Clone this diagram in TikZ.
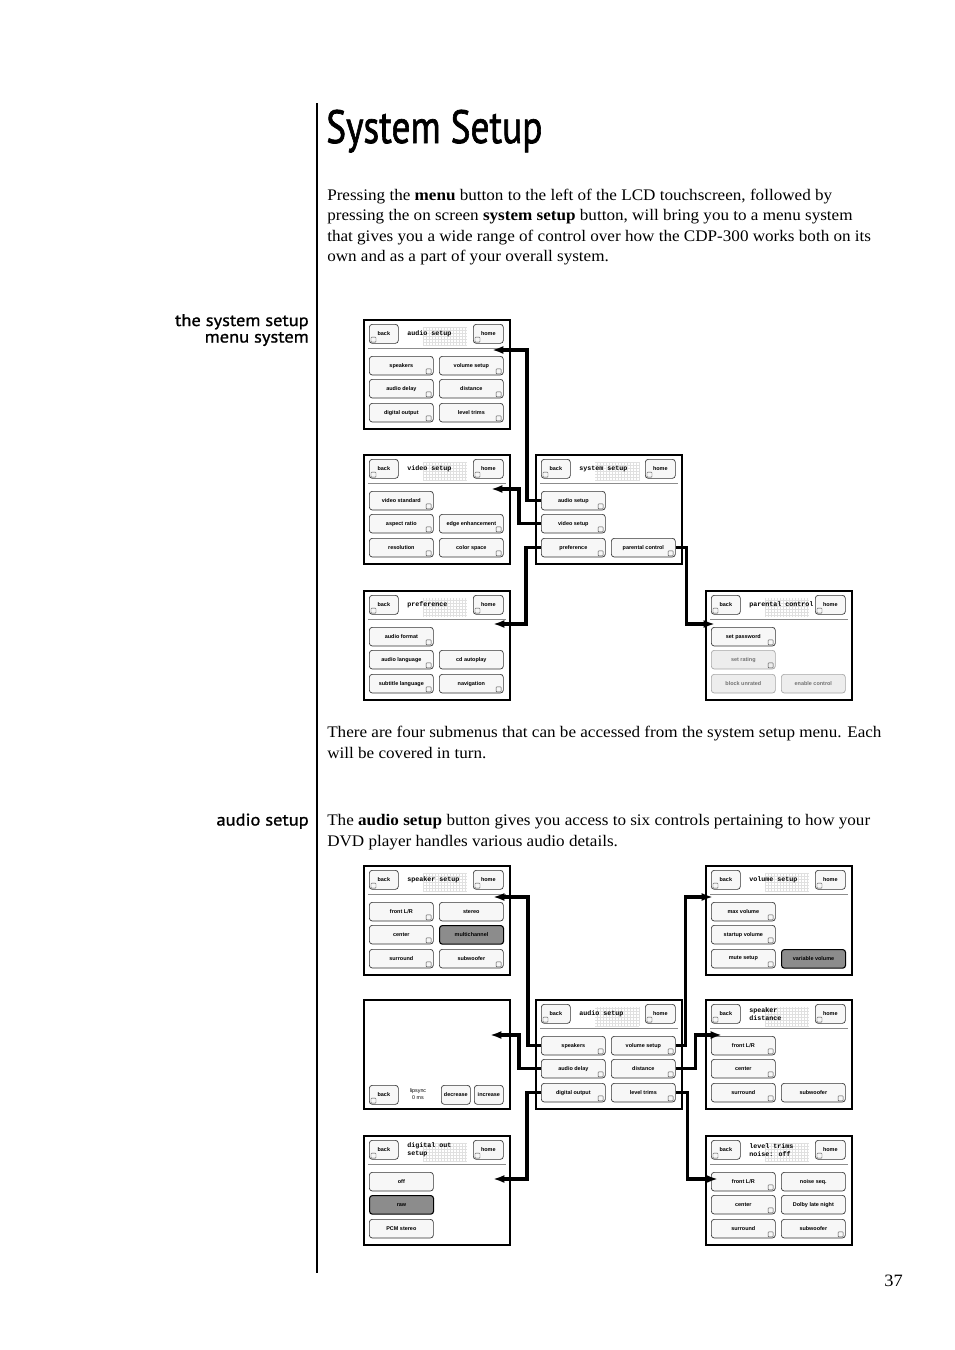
\documentclass[tikz,border=0pt]{standalone}
\usepackage{fontspec}
\setmainfont{Liberation Serif}[FakeStretch=1.06]
\setsansfont{PT Sans}
\newfontfamily\headfont{PT Sans}[FakeBold=1.6]
\newfontfamily\sidefont{PT Sans}[FakeStretch=1.1, FakeBold=1.1]
\newfontfamily\lcdsans{Liberation Sans}
\newfontfamily\lcdmono{Liberation Mono}
\usepackage{graphicx}
\usepackage{tikz}
\usetikzlibrary{calc, positioning, arrows.meta}
\definecolor{lcdline}{RGB}{140,140,140}

% one touchscreen page: frame, header keys, title and rule
\newcommand{\lcdscreen}[4]{%
  \node[screen] (#1) at (#2,#3) {};
  \draw[dotgrid] ($(#1.north west)+(60,27)$) grid ($(#1.north west)+(104,8)$);
  \node[hdrkey] (#1-back) at ($(#1.north west)+(6,5)$) {back};
  \draw[icon] ($(#1-back.south west)+(2,-1.5)$) rectangle ++(5,-5);
  \node[hdrkey, minimum width=22.5pt] (#1-home) at ($(#1.north west)+(110,5)$) {home};
  \draw[icon] ($(#1-home.south west)+(2,-1.5)$) rectangle ++(5,-5);
  \node[lcdtitle] (#1-title) at ($(#1.north west)+(44,15)$) {#4};
  \draw[hline] ($(#1.north west)+(5,29)$) -- ($(#1.north east)+(-5,29)$);
}
% key with the small arrow box in its corner
\newcommand{\lcdbtn}[6][]{%
  \node[btn, #1] (#2) at ($(#3.north west)+(#4,#5)$) {#6};
  \draw[icon] ($(#2.south east)+(-7.5,-1.5)$) rectangle ++(5,-5);
}
% plain key
\newcommand{\lcdkey}[6][]{%
  \node[btn, #1] (#2) at ($(#3.north west)+(#4,#5)$) {#6};
}

\begin{document}
\begin{tikzpicture}[
    x=0.75pt, y=-0.75pt,
    >={Latex[length=8.5pt,width=6pt]},
    screen/.style={draw, line width=1.5pt, anchor=north west,
                   minimum width=109.5pt, minimum height=81.75pt, inner sep=0pt},
    btn/.style={draw=black!80, line width=0.5pt, rounded corners=2.2pt,
                fill=black!3, anchor=north west, minimum width=48pt,
                minimum height=14pt, inner sep=0pt,
                font=\lcdsans\bfseries\fontsize{4.1}{4.5}\selectfont},
    hdrkey/.style={btn, minimum width=21.75pt, minimum height=14.25pt},
    dark/.style={fill=black!45, draw=black, line width=0.8pt},
    dim/.style={draw=black!35, fill=black!7, text=black!55},
    icon/.style={draw=black!70, line width=0.3pt, rounded corners=0.5pt},
    dotgrid/.style={draw=black!12, line width=0.15pt, step=2.25pt},
    hline/.style={draw=lcdline, line width=0.5pt},
    lcdtitle/.style={anchor=west, inner sep=0pt, align=left,
                     font=\lcdmono\bfseries\fontsize{5}{6}\selectfont},
    link/.style={->, line width=2.4pt},
    body/.style={anchor=base west, inner sep=0pt,
                 font=\fontsize{12.1}{14}\selectfont},
    sidelabel/.style={anchor=base east, inner sep=0pt,
                      font=\sidefont\fontsize{12.6}{14}\selectfont}
]
\fill[white] (0,0) rectangle (954,1350);
\useasboundingbox (0,0) rectangle (954,1350);

% --- page text ---
\draw[line width=1.1pt] (317,103) -- (317,1273);
\node[anchor=base west, inner sep=0pt, font=\headfont\fontsize{35}{40}\selectfont]
    (heading) at (326,143) {\scalebox{0.8}[1]{System Setup}};
\node[body] (intro-1) at (327,200) {Pressing the \textbf{menu} button to the left of the LCD touchscreen, followed by};
\node[body] (intro-2) at (327,220.5) {pressing the on screen \textbf{system setup} button, will bring you to a menu system};
\node[body] (intro-3) at (327,241) {that gives you a wide range of control over how the CDP-300 works both on its};
\node[body] (intro-4) at (327,261.5) {own and as a part of your overall system.};
\node[sidelabel] (side-1a) at (309,326) {the system setup};
\node[sidelabel] (side-1b) at (309,342.5) {menu system};
\node[body] (sub-1) at (327,737) {There are four submenus that can be accessed from the system setup menu. Each};
\node[body] (sub-2) at (327,758) {will be covered in turn.};
\node[sidelabel] (side-2) at (309,825.5) {audio setup};
\node[body] (aud-1) at (327,825.5) {The \textbf{audio setup} button gives you access to six controls pertaining to how your};
\node[body] (aud-2) at (327,846) {DVD player handles various audio details.};
\node[anchor=base east, inner sep=0pt, font=\fontsize{13}{15}\selectfont]
    (pageno) at (903,1286) {37};

% ============================================================
%  SYSTEM SETUP and its four submenus
% ============================================================
\lcdscreen{aud}{363}{319}{audio setup}
\lcdbtn{aud-spk}{aud}{6}{37}{speakers}
\lcdbtn{aud-vol}{aud}{76}{37}{volume setup}
\lcdbtn{aud-del}{aud}{6}{60}{audio delay}
\lcdbtn{aud-dist}{aud}{76}{60}{distance}
\lcdbtn{aud-dig}{aud}{6}{84}{digital output}
\lcdbtn{aud-lvl}{aud}{76}{84}{level trims}

\lcdscreen{vid}{363}{454}{video setup}
\lcdbtn{vid-std}{vid}{6}{37}{video standard}
\lcdbtn{vid-asp}{vid}{6}{60}{aspect ratio}
\lcdbtn{vid-edge}{vid}{76}{60}{edge enhancement}
\lcdbtn{vid-res}{vid}{6}{84}{resolution}
\lcdbtn{vid-col}{vid}{76}{84}{color space}

\lcdscreen{sys}{535}{454}{system setup}
\lcdbtn{sys-aud}{sys}{6}{37}{audio setup}
\lcdbtn{sys-vid}{sys}{6}{60}{video setup}
\lcdbtn{sys-pref}{sys}{6}{84}{preference}
\lcdbtn{sys-par}{sys}{76}{84}{parental control}

\lcdscreen{pref}{363}{590}{preference}
\lcdbtn{pref-fmt}{pref}{6}{37}{audio format}
\lcdbtn{pref-lang}{pref}{6}{60}{audio language}
\lcdkey{pref-cd}{pref}{76}{60}{cd autoplay}
\lcdbtn{pref-sub}{pref}{6}{84}{subtitle language}
\lcdbtn{pref-nav}{pref}{76}{84}{navigation}

\lcdscreen{par}{705}{590}{parental control}
\lcdbtn{par-pw}{par}{6}{37}{set password}
\lcdbtn[dim]{par-rate}{par}{6}{60}{set rating}
\lcdkey[dim]{par-blk}{par}{6}{84}{block unrated}
\lcdkey[dim]{par-en}{par}{76}{84}{enable control}

\coordinate (aud-in)  at ($(aud.north west)+(129,31)$);
\coordinate (vid-in)  at ($(vid.north west)+(128,35)$);
\coordinate (pref-in) at ($(pref.north west)+(130,34)$);
\coordinate (par-in)  at ($(par.north west)+(10,34)$);
\draw[link] (sys-aud.west)  -- ++(-14,0) |- (aud-in);
\draw[link] (sys-vid.west)  -- ++(-22,0) |- (vid-in);
\draw[link] (sys-pref.west) -- ++(-15,0) |- (pref-in);
\draw[link] (sys-par.east)  -- ++(11,0)  |- (par-in);

% ============================================================
%  AUDIO SETUP and its six controls
% ============================================================
\lcdscreen{spk}{363}{865}{speaker setup}
\lcdbtn{spk-fr}{spk}{6}{37}{front L/R}
\lcdkey{spk-st}{spk}{76}{37}{stereo}
\lcdbtn{spk-ctr}{spk}{6}{60}{center}
\lcdkey[dark]{spk-mc}{spk}{76}{60}{multichannel}
\lcdbtn{spk-sur}{spk}{6}{84}{surround}
\lcdbtn{spk-sub}{spk}{76}{84}{subwoofer}

\lcdscreen{vol}{705}{865}{volume setup}
\lcdbtn{vol-max}{vol}{6}{37}{max volume}
\lcdbtn{vol-start}{vol}{6}{60}{startup volume}
\lcdbtn{vol-mute}{vol}{6}{84}{mute setup}
\lcdkey[dark]{vol-var}{vol}{76}{84}{variable volume}

\node[screen] (lip) at (363,999) {};
\node[hdrkey] (lip-back) at ($(lip.north west)+(6,86)$) {back};
\draw[icon] ($(lip-back.south west)+(2,-1.5)$) rectangle ++(5,-5);
\node[lcdtitle, anchor=center, align=center, font=\lcdsans\fontsize{4}{4.8}\selectfont]
    (lip-val) at ($(lip.north west)+(55,95)$) {lipsync\\0 ms};
\node[hdrkey] (lip-dec) at ($(lip.north west)+(78,86)$) {decrease};
\node[hdrkey] (lip-inc) at ($(lip.north west)+(111,86)$) {increase};

\lcdscreen{aset}{535}{999}{audio setup}
\lcdbtn{aset-spk}{aset}{6}{37}{speakers}
\lcdbtn{aset-vol}{aset}{76}{37}{volume setup}
\lcdbtn{aset-del}{aset}{6}{60}{audio delay}
\lcdbtn{aset-dist}{aset}{76}{60}{distance}
\lcdbtn{aset-dig}{aset}{6}{84}{digital output}
\lcdbtn{aset-lvl}{aset}{76}{84}{level trims}

\lcdscreen{sdist}{705}{999}{speaker\\distance}
\lcdbtn{sdist-fr}{sdist}{6}{37}{front L/R}
\lcdbtn{sdist-ctr}{sdist}{6}{60}{center}
\lcdbtn{sdist-sur}{sdist}{6}{84}{surround}
\lcdbtn{sdist-sub}{sdist}{76}{84}{subwoofer}

\lcdscreen{dout}{363}{1135}{digital out\\setup}
\lcdkey{dout-off}{dout}{6}{37}{off}
\lcdkey[dark]{dout-raw}{dout}{6}{60}{raw}
\lcdkey{dout-pcm}{dout}{6}{84}{PCM stereo}

\lcdscreen{lvl}{705}{1135}{level trims\\noise: off}
\lcdbtn{lvl-fr}{lvl}{6}{37}{front L/R}
\lcdkey{lvl-seq}{lvl}{76}{37}{noise seq.}
\lcdbtn{lvl-ctr}{lvl}{6}{60}{center}
\lcdkey{lvl-dolby}{lvl}{76}{60}{Dolby late night}
\lcdbtn{lvl-sur}{lvl}{6}{84}{surround}
\lcdbtn{lvl-sub}{lvl}{76}{84}{subwoofer}

\coordinate (spk-in)   at ($(spk.north west)+(130,32)$);
\coordinate (vol-in)   at ($(vol.north west)+(8,32)$);
\coordinate (lip-in)   at ($(lip.north west)+(127,36)$);
\coordinate (sdist-in) at ($(sdist.north west)+(17,36)$);
\coordinate (dout-in)  at ($(dout.north west)+(130,44)$);
\coordinate (lvl-in)   at ($(lvl.north west)+(13,44)$);
\draw[link] (aset-spk.west)  -- ++(-13,0) |- (spk-in);
\draw[link] (aset-vol.east)  -- ++(10,0)  |- (vol-in);
\draw[link] (aset-del.west)  -- ++(-22,0) |- (lip-in);
\draw[link] (aset-dist.east) -- ++(20,0)  |- (sdist-in);
\draw[link] (aset-dig.west)  -- ++(-14,0) |- (dout-in);
\draw[link] (aset-lvl.east)  -- ++(12,0)  |- (lvl-in);

\end{tikzpicture}
\end{document}
